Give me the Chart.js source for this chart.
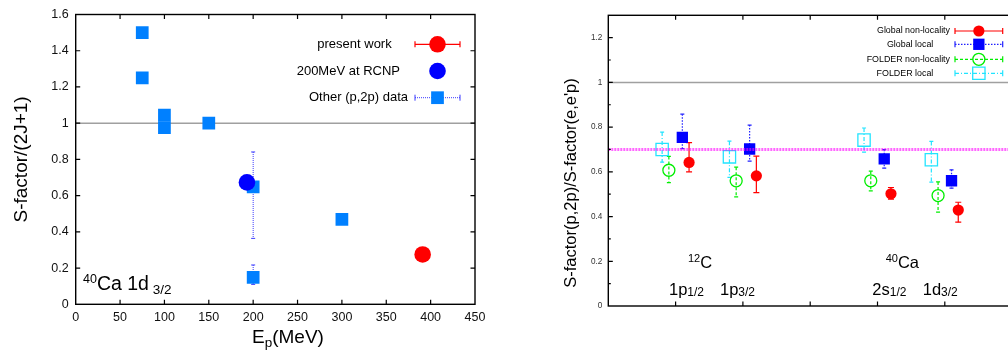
<!DOCTYPE html>
<html lang="en">
<head>
  <meta charset="UTF-8">
  <title>S-factor comparison</title>
  <script src="https://cdn.jsdelivr.net/npm/chart.js"></script>
  <style>
    html, body { margin: 0; padding: 0; background: #fff; overflow: hidden; width: 1008px; height: 351px; }
    .panel { position: absolute; top: 0; }
  </style>
</head>
<body>
  <div class="panel" style="left: 0;"><canvas id="leftChart" width="500" height="351"></canvas></div>
  <div class="panel" style="left: 520px;"><canvas id="rightChart" width="494" height="351"></canvas></div>

  <script>
    // ---- left panel: 40Ca 1d3/2, S-factor/(2J+1) against proton energy ----
    const presentE = [391];
    const presentS = [0.275];
    const rcnpE = [193];
    const rcnpS = [0.673];
    const otherE = [75, 75, 100, 100, 150, 200, 200, 300];
    const otherS = [1.50, 1.25, 1.045, 0.975, 1.00, 0.648, 0.149, 0.469];
    const otherHi = [null, null, null, null, null, 0.841, 0.217, null];
    const otherLo = [null, null, null, null, null, 0.364, 0.110, null];
    const leftXTicks = [0, 50, 100, 150, 200, 250, 300, 350, 400, 450];
    const leftYTicks = [0, 0.2, 0.4, 0.6, 0.8, 1.0, 1.2, 1.4, 1.6];

    // ---- right panel: S-factor(p,2p)/S-factor(e,e'p) per orbital ----
    const orbitalTicks = [0, 1, 2, 3, 4, 5, 6];   // 1p1/2, 1p3/2 (12C) at 1,2 ; 2s1/2, 1d3/2 (40Ca) at 4,5
    const globalNonLocX = [1.2, 2.2, 4.2, 5.2];
    const globalNonLocY = [0.642, 0.582, 0.502, 0.429];
    const globalNonLocHi = [0.731, 0.670, 0.530, 0.464];
    const globalNonLocLo = [0.600, 0.507, 0.478, 0.375];
    const globalLocX = [1.1, 2.1, 4.1, 5.1];
    const globalLocY = [0.754, 0.702, 0.658, 0.560];
    const globalLocHi = [0.858, 0.809, 0.699, 0.609];
    const globalLocLo = [0.704, 0.648, 0.617, 0.527];
    const folderNonLocX = [0.9, 1.9, 3.9, 4.9];
    const folderNonLocY = [0.607, 0.560, 0.560, 0.494];
    const folderNonLocHi = [0.669, 0.621, 0.603, 0.555];
    const folderNonLocLo = [0.552, 0.488, 0.515, 0.420];
    const folderLocX = [0.8, 1.8, 3.8, 4.8];
    const folderLocY = [0.700, 0.667, 0.742, 0.654];
    const folderLocHi = [0.778, 0.737, 0.796, 0.736];
    const folderLocLo = [0.643, 0.575, 0.688, 0.554];
    const ratioYTicks = [0, 0.2, 0.4, 0.6, 0.8, 1.0, 1.2];
    const ratioYMinor = [0.1, 0.3, 0.5, 0.7, 0.9, 1.1];
    const ratioRef = 0.70;

    const FONT = "'Liberation Sans', Arial, sans-serif";

    function pts(xs, ys, hi, lo) {
      return xs.map((x, i) => ({ x: x, y: ys[i], hi: hi ? hi[i] : null, lo: lo ? lo[i] : null }));
    }

    function fmt(v) {
      return String(Math.round(v * 10) / 10);
    }

    function drawMarker(ctx, style, r, fill, stroke, bw, x, y) {
      ctx.save();
      ctx.setLineDash([]);
      ctx.fillStyle = fill;
      ctx.strokeStyle = stroke;
      ctx.lineWidth = bw;
      ctx.beginPath();
      if (style === 'rect') {
        const h = r * Math.SQRT1_2;
        ctx.rect(x - h, y - h, 2 * h, 2 * h);
      } else {
        ctx.arc(x, y, r, 0, Math.PI * 2);
      }
      ctx.fill();
      if (bw > 0) ctx.stroke();
      ctx.restore();
    }

    // text with super/subscripts: parts = [text, size, dy]
    function drawRich(ctx, x, y, parts) {
      let cx = x;
      parts.forEach(p => {
        ctx.font = p[1] + 'px ' + FONT;
        ctx.fillText(p[0], cx, y + p[2]);
        cx += ctx.measureText(p[0]).width;
      });
    }

    // vertical error bars, drawn under the markers
    const errorBars = {
      id: 'errorBars',
      beforeDatasetsDraw(chart) {
        const ctx = chart.ctx;
        const yScale = chart.scales.y;
        chart.data.datasets.forEach((ds, di) => {
          if (!ds.err) return;
          const meta = chart.getDatasetMeta(di);
          ctx.save();
          ctx.strokeStyle = ds.err.color;
          ctx.lineWidth = ds.err.width;
          meta.data.forEach((pt, i) => {
            const d = ds.data[i];
            if (d.hi == null) return;
            const yh = yScale.getPixelForValue(d.hi);
            const yl = yScale.getPixelForValue(d.lo);
            ctx.setLineDash(ds.err.dash);
            ctx.beginPath();
            ctx.moveTo(pt.x, yh);
            ctx.lineTo(pt.x, yl);
            ctx.stroke();
            ctx.setLineDash([]);
            ctx.beginPath();
            ctx.moveTo(pt.x - ds.err.cap, yh); ctx.lineTo(pt.x + ds.err.cap, yh);
            ctx.moveTo(pt.x - ds.err.cap, yl); ctx.lineTo(pt.x + ds.err.cap, yl);
            ctx.stroke();
          });
          ctx.restore();
        });
      }
    };

    // box round the plot with inward tick marks on the sides
    const frame = {
      id: 'frame',
      afterDraw(chart, args, opts) {
        const ctx = chart.ctx;
        const a = chart.chartArea;
        const xs = chart.scales.x, ys = chart.scales.y;
        const L = 4.5;
        const mirror = opts.mirrorY !== false;
        ctx.save();
        ctx.setLineDash([]);
        ctx.strokeStyle = '#000';
        ctx.lineWidth = 1.2;
        ctx.beginPath();
        xs.ticks.forEach(t => {
          const px = xs.getPixelForValue(t.value);
          if (px <= a.left + 2 || px >= a.right - 2) return;
          ctx.moveTo(px, a.bottom); ctx.lineTo(px, a.bottom - L);
          ctx.moveTo(px, a.top); ctx.lineTo(px, a.top + L);
        });
        ys.ticks.forEach(t => {
          const py = ys.getPixelForValue(t.value);
          if (py <= a.top + 2 || py >= a.bottom - 2) return;
          ctx.moveTo(a.left, py); ctx.lineTo(a.left + L, py);
          if (mirror) { ctx.moveTo(a.right, py); ctx.lineTo(a.right - L, py); }
        });
        (opts.minorY || []).forEach(v => {
          const py = ys.getPixelForValue(v);
          ctx.moveTo(a.left, py); ctx.lineTo(a.left + 2.5, py);
          if (mirror) { ctx.moveTo(a.right, py); ctx.lineTo(a.right - 2.5, py); }
        });
        ctx.stroke();
        ctx.lineWidth = 1.4;
        ctx.strokeRect(a.left, a.top, a.right - a.left, a.bottom - a.top);
        ctx.restore();
      }
    };

    // gnuplot-like key: right aligned text, then line sample with marker
    const keyBox = {
      id: 'keyBox',
      afterDraw(chart, args, opts) {
        if (!opts.entries) return;
        const ctx = chart.ctx;
        ctx.save();
        opts.entries.forEach(e => {
          const ds = chart.data.datasets[e.ds];
          ctx.font = opts.size + 'px ' + FONT;
          ctx.fillStyle = '#000';
          ctx.textAlign = 'right';
          ctx.textBaseline = 'middle';
          ctx.fillText(ds.label, e.right, e.y);
          const k = ds.keyLine;
          if (k) {
            ctx.strokeStyle = k.color;
            ctx.lineWidth = k.width;
            ctx.setLineDash(k.dash);
            ctx.beginPath();
            ctx.moveTo(opts.x0, e.y); ctx.lineTo(opts.x1, e.y);
            ctx.stroke();
            ctx.setLineDash([]);
            ctx.beginPath();
            ctx.moveTo(opts.x0, e.y - 3); ctx.lineTo(opts.x0, e.y + 3);
            ctx.moveTo(opts.x1, e.y - 3); ctx.lineTo(opts.x1, e.y + 3);
            ctx.stroke();
          }
          drawMarker(ctx, ds.pointStyle, ds.pointRadius, ds.backgroundColor, ds.borderColor, ds.borderWidth,
            (opts.x0 + opts.x1) / 2, e.y);
        });
        ctx.restore();
      }
    };

    // free text labels
    const labels = {
      id: 'labels',
      afterDraw(chart, args, opts) {
        const ctx = chart.ctx;
        ctx.save();
        ctx.fillStyle = '#000';
        ctx.textAlign = 'left';
        ctx.textBaseline = 'alphabetic';
        (opts.items || []).forEach(it => drawRich(ctx, it.x, it.y, it.parts));
        if (opts.yTitle) {
          const t = opts.yTitle;
          ctx.translate(t.x, t.y);
          ctx.rotate(-Math.PI / 2);
          ctx.textAlign = 'center';
          ctx.textBaseline = 'middle';
          ctx.font = t.size + 'px ' + FONT;
          ctx.fillText(t.text, 0, 0);
        }
        ctx.restore();
      }
    };

    Chart.register(errorBars, frame, keyBox, labels);

    // ---------------- left chart ----------------
    new Chart(document.getElementById('leftChart'), {
      type: 'scatter',
      data: {
        datasets: [
          {
            label: '200MeV at RCNP',
            data: pts(rcnpE, rcnpS),
            pointStyle: 'circle', pointRadius: 8.3,
            backgroundColor: '#0000ff', borderColor: '#0000ff', borderWidth: 0,
            order: 0
          },
          {
            label: 'present work',
            data: pts(presentE, presentS),
            pointStyle: 'circle', pointRadius: 8.3,
            backgroundColor: '#ff0000', borderColor: '#ff0000', borderWidth: 0,
            keyLine: { color: '#ff0000', dash: [], width: 1.2 },
            order: 1
          },
          {
            label: 'Other (p,2p) data',
            data: pts(otherE, otherS, otherHi, otherLo),
            pointStyle: 'rect', pointRadius: 9,
            backgroundColor: '#0080ff', borderColor: '#0080ff', borderWidth: 0,
            err: { color: '#3a3aff', dash: [1, 1], width: 1, cap: 2 },
            keyLine: { color: '#3a3aff', dash: [1, 1], width: 1 },
            order: 2
          },
          {
            label: 'unity',
            data: [{ x: 0, y: 1 }, { x: 450, y: 1 }],
            showLine: true, pointRadius: 0,
            borderColor: '#a0a0a0', borderWidth: 1.5,
            order: 3
          }
        ]
      },
      options: {
        responsive: false,
        animation: false,
        layout: { autoPadding: false, padding: { top: 14, right: 25, left: 0, bottom: 0 } },
        scales: {
          x: {
            type: 'linear', min: 0, max: 450,
            afterBuildTicks: s => { s.ticks = leftXTicks.map(v => ({ value: v })); },
            afterFit: s => { s.height = 46.7; },
            grid: { display: false, drawTicks: false },
            border: { display: false },
            ticks: { padding: 6, color: '#111', font: { family: FONT, size: 12.5 }, maxRotation: 0, autoSkip: false }
          },
          y: {
            type: 'linear', min: 0, max: 1.6,
            afterBuildTicks: s => { s.ticks = leftYTicks.map(v => ({ value: v })); },
            afterFit: s => { s.width = 75.7; },
            grid: { display: false, drawTicks: false },
            border: { display: false },
            ticks: { padding: 7, color: '#111', font: { family: FONT, size: 12.5 }, callback: v => fmt(v) },
            title: {
              display: true, text: 'S-factor/(2J+1)', color: '#000',
              font: { family: FONT, size: 19 }, padding: { top: 10, bottom: 0 }
            }
          }
        },
        plugins: {
          legend: { display: false },
          tooltip: { enabled: false },
          keyBox: {
            size: 13, x0: 415, x1: 460,
            entries: [
              { ds: 1, y: 44.3, right: 391.7 },
              { ds: 0, y: 71, right: 400 },
              { ds: 2, y: 97.7, right: 408 }
            ]
          },
          labels: {
            items: [
              { x: 83, y: 290, parts: [['40', 12.5, -7], ['Ca 1d', 19.5, 0], [' 3/2', 13.5, 4]] },
              { x: 252, y: 343, parts: [['E', 19, 0], ['p', 13.5, 4], ['(MeV)', 19, 0]] }
            ]
          }
        }
      }
    });

    // ---------------- right chart ----------------
    new Chart(document.getElementById('rightChart'), {
      type: 'scatter',
      data: {
        datasets: [
          {
            label: 'reference 0.7',
            data: [{ x: 0, y: ratioRef }, { x: 6, y: ratioRef }],
            showLine: true, pointRadius: 0,
            borderColor: 'rgba(255, 0, 255, 0.6)', borderWidth: 3, borderDash: [2, 1],
            order: -1
          },
          {
            label: 'Global non-locality',
            data: pts(globalNonLocX, globalNonLocY, globalNonLocHi, globalNonLocLo),
            pointStyle: 'circle', pointRadius: 5.6,
            backgroundColor: '#ff0000', borderColor: '#ff0000', borderWidth: 0,
            err: { color: '#ff0000', dash: [], width: 1.2, cap: 3 },
            keyLine: { color: '#ff0000', dash: [], width: 1.2 },
            order: 0
          },
          {
            label: 'Global local',
            data: pts(globalLocX, globalLocY, globalLocHi, globalLocLo),
            pointStyle: 'rect', pointRadius: 8,
            backgroundColor: '#0000ff', borderColor: '#0000ff', borderWidth: 0,
            err: { color: '#2020ff', dash: [1.5, 1.5], width: 1.2, cap: 2 },
            keyLine: { color: '#2020ff', dash: [1.5, 1.5], width: 1.2 },
            order: 1
          },
          {
            label: 'FOLDER non-locality',
            data: pts(folderNonLocX, folderNonLocY, folderNonLocHi, folderNonLocLo),
            pointStyle: 'circle', pointRadius: 6,
            backgroundColor: 'rgba(0,0,0,0)', borderColor: '#00ee00', borderWidth: 1.3,
            err: { color: '#00ee00', dash: [3, 2], width: 1.2, cap: 2 },
            keyLine: { color: '#00ee00', dash: [3, 2], width: 1.2 },
            order: 2
          },
          {
            label: 'FOLDER local',
            data: pts(folderLocX, folderLocY, folderLocHi, folderLocLo),
            pointStyle: 'rect', pointRadius: 8.7,
            backgroundColor: 'rgba(0,0,0,0)', borderColor: '#22e4ff', borderWidth: 1.3,
            err: { color: '#22e4ff', dash: [4, 2, 1, 2], width: 1.2, cap: 2 },
            keyLine: { color: '#22e4ff', dash: [4, 2, 1, 2], width: 1.2 },
            order: 3
          },
          {
            label: 'unity',
            data: [{ x: 0, y: 1 }, { x: 6, y: 1 }],
            showLine: true, pointRadius: 0,
            borderColor: '#a0a0a0', borderWidth: 1.5,
            order: 4
          }
        ]
      },
      options: {
        responsive: false,
        animation: false,
        layout: { autoPadding: false, padding: { top: 15.3, right: 1.9, left: 0, bottom: 0 } },
        scales: {
          x: {
            type: 'linear', min: 0, max: 6,
            afterBuildTicks: s => { s.ticks = orbitalTicks.map(v => ({ value: v })); },
            afterFit: s => { s.height = 45; },
            grid: { display: false, drawTicks: false },
            border: { display: false },
            ticks: { display: false }
          },
          y: {
            type: 'linear', min: 0, max: 1.3,
            afterBuildTicks: s => { s.ticks = ratioYTicks.map(v => ({ value: v })); },
            afterFit: s => { s.width = 88.3; },
            grid: { display: false, drawTicks: false },
            border: { display: false },
            ticks: { padding: 6, color: '#333', font: { family: FONT, size: 8.2 }, callback: v => fmt(v) }
          }
        },
        plugins: {
          legend: { display: false },
          tooltip: { enabled: false },
          frame: { minorY: ratioYMinor, mirrorY: false },
          keyBox: {
            size: 8.9, x0: 435, x1: 482.7,
            entries: [
              { ds: 1, y: 31, right: 430 },
              { ds: 2, y: 44.3, right: 413.3 },
              { ds: 3, y: 59.3, right: 430 },
              { ds: 4, y: 73.3, right: 413.3 }
            ]
          },
          labels: {
            yTitle: { text: "S-factor(p,2p)/S-factor(e,e'p)", x: 51.7, y: 183, size: 16.5 },
            items: [
              { x: 168, y: 268, parts: [['12', 11, -6], ['C', 16.5, 0]] },
              { x: 365.7, y: 268, parts: [['40', 11, -6], ['Ca', 16.5, 0]] },
              { x: 149, y: 295, parts: [['1p', 16.5, 0], ['1/2', 12, 1]] },
              { x: 200, y: 295, parts: [['1p', 16.5, 0], ['3/2', 12, 1]] },
              { x: 352.3, y: 295, parts: [['2s', 16.5, 0], ['1/2', 12, 1]] },
              { x: 402.7, y: 295, parts: [['1d', 16.5, 0], ['3/2', 12, 1]] }
            ]
          }
        }
      }
    });
  </script>
</body>
</html>
